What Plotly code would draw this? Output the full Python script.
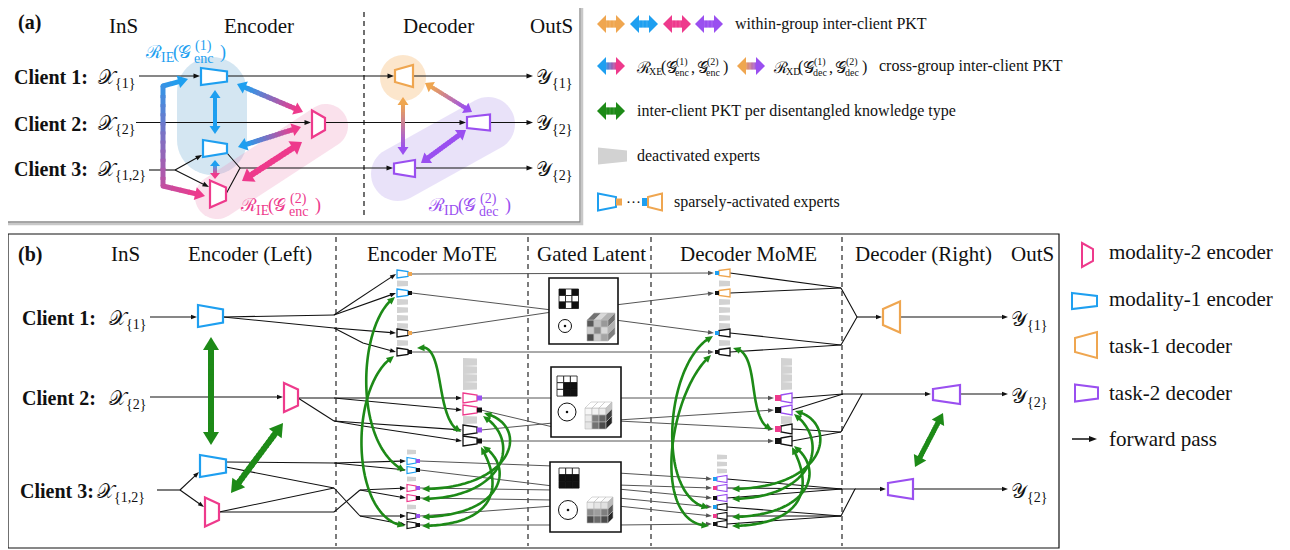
import math
import numpy as np
import plotly.graph_objects as go

# ------------------------------------------------------------------ data (labels / categories)
SX, SY, SR, SG = "\U0001D4B3", "\U0001D4B4", "\u211B", "\U0001D4A2"
CLIENTS = ["Client 1:", "Client 2:", "Client 3:"]
INPUTS = [SX + "<sub>{1}</sub>", SX + "<sub>{2}</sub>", SX + "<sub>{1,2}</sub>"]
OUTPUTS = [SY + "<sub>{1}</sub>", SY + "<sub>{2}</sub>", SY + "<sub>{2}</sub>"]
HEAD_A = ["(a)", "InS", "Encoder", "Decoder", "OutS"]
HEAD_B = ["(b)", "InS", "Encoder (Left)", "Encoder MoTE", "Gated Latent",
          "Decoder MoME", "Decoder (Right)", "OutS"]
# regularisers: (subscript, [(superscript, subscript), ...])
REG_IE1 = ("IE", [("(1)", "enc")])
REG_IE2 = ("IE", [("(2)", "enc")])
REG_ID2 = ("ID", [("(2)", "dec")])
REG_XE = ("XE", [("(1)", "enc"), ("(2)", "enc")])
REG_XD = ("XD", [("(1)", "dec"), ("(2)", "dec")])
LEG_A = ["within-group inter-client PKT", "cross-group inter-client PKT",
         "inter-client PKT per disentangled knowledge type",
         "deactivated experts", "sparsely-activated experts"]
LEG_B = ["modality-2 encoder", "modality-1 encoder", "task-1 decoder", "task-2 decoder", "forward pass"]
# active experts: (outline colour, routing-square colour)
ENC_C1 = [("blue", "orange"), ("blue", "black"), ("black", "orange"), ("black", "black")]
ENC_C2 = [("pink", "purple"), ("pink", "black"), ("black", "purple"), ("black", "black")]
ENC_C3 = [("blue", "purple"), ("blue", "black"), ("pink", "purple"), ("pink", "black"),
          ("black", "purple"), ("black", "black")]
DEC_C1 = [("orange", "blue"), ("orange", "black"), ("black", "blue"), ("black", "black")]
DEC_C2 = [("purple", "pink"), ("purple", "black"), ("black", "pink"), ("black", "black")]
DEC_C3 = [("purple", "blue"), ("purple", "pink"), ("purple", "black"), ("black", "blue"),
          ("black", "pink"), ("black", "black")]
MASKS = [[[1, 0, 1], [0, 0, 0], [1, 0, 1]],
         [[0, 0, 0], [0, 1, 1], [0, 1, 1]],
         [[0, 0, 0], [1, 1, 1], [1, 1, 1]]]
CUBE_SHADES = [[[0.35, 0.75, 0.6], [0.8, 0.55, 0.85], [0.3, 0.8, 0.65]],
               [[0.97, 0.95, 0.93], [0.92, 0.5, 0.4], [0.9, 0.45, 0.3]],
               [[0.93, 0.9, 0.88], [0.55, 0.62, 0.5], [0.3, 0.42, 0.3]]]

# ------------------------------------------------------------------ styles
C = dict(blue='#1e9ff0', pink='#ee3a8c', orange='#efa650', purple='#9a4ff0',
         black='#111111', green='#1d8a17', gray='#d2d2d2', line='#555555')
SERIF = "Liberation Serif, Times New Roman, serif"

shapes, anns = [], []


def P(pts, close=True):
    s = 'M ' + ' L '.join(f'{x:.2f},{y:.2f}' for x, y in pts)
    return s + (' Z' if close else '')


def poly(pts, fill, line=None, lw=1.0):
    shapes.append(dict(type='path', path=P(pts), fillcolor=fill, xref='x', yref='y',
                       line=dict(color=line if line else 'rgba(0,0,0,0)', width=lw if line else 0)))


def pline(pts, color=C['black'], lw=1.1, dash=None):
    shapes.append(dict(type='path', path=P(pts, False), xref='x', yref='y',
                       line=dict(color=color, width=lw, dash=dash)))


def seg(x0, y0, x1, y1, color, lw=1.0, dash=None):
    shapes.append(dict(type='line', x0=x0, y0=y0, x1=x1, y1=y1, xref='x', yref='y',
                       line=dict(color=color, width=lw, dash=dash)))


def unit(dx, dy):
    d = math.hypot(dx, dy) or 1.0
    return dx / d, dy / d


def head(x, y, ux, uy, L, Wd, color):
    bx, by = x - ux * L, y - uy * L
    px, py = -uy, ux
    poly([(x, y), (bx + px * Wd / 2, by + py * Wd / 2), (bx - px * Wd / 2, by - py * Wd / 2)], color)


def arrow(pts, color=C['black'], lw=1.1, L=6.5, Wd=5):
    x1, y1 = pts[-1]
    x0, y0 = pts[-2]
    ux, uy = unit(x1 - x0, y1 - y0)
    pline(pts[:-1] + [(x1 - ux * L * 0.8, y1 - uy * L * 0.8)], color, lw)
    head(x1, y1, ux, uy, L, Wd, color)


def hx(c):
    c = c.lstrip('#')
    return tuple(int(c[i:i + 2], 16) for i in (0, 2, 4))


def mix(c0, c1, t):
    a, b = hx(c0), hx(c1)
    return 'rgb(%d,%d,%d)' % tuple(round(a[i] + (b[i] - a[i]) * t) for i in range(3))


def thick(pts, c0, c1=None, w=5, L=11, Wd=13, start=True, end=True, n=16):
    c1 = c1 or c0
    pts = [tuple(p) for p in pts]
    us = unit(pts[0][0] - pts[1][0], pts[0][1] - pts[1][1])
    ue = unit(pts[-1][0] - pts[-2][0], pts[-1][1] - pts[-2][1])
    body = list(pts)
    if start:
        body[0] = (pts[0][0] - us[0] * L * 0.85, pts[0][1] - us[1] * L * 0.85)
    if end:
        body[-1] = (pts[-1][0] - ue[0] * L * 0.85, pts[-1][1] - ue[1] * L * 0.85)
    lens = [math.dist(body[i], body[i + 1]) for i in range(len(body) - 1)]
    tot = sum(lens)
    acc = 0.0
    for i in range(len(body) - 1):
        (x0, y0), (x1, y1) = body[i], body[i + 1]
        k = max(1, round(n * lens[i] / tot))
        for j in range(k):
            t0, t1 = j / k, min(1.0, (j + 1) / k + 0.03)
            tm = (acc + lens[i] * (j + 0.5) / k) / tot
            seg(x0 + (x1 - x0) * t0, y0 + (y1 - y0) * t0, x0 + (x1 - x0) * t1, y0 + (y1 - y0) * t1,
                mix(c0, c1, tm), w)
        acc += lens[i]
        if i < len(body) - 2:
            cx, cy = body[i + 1]
            r = w / 2
            shapes.append(dict(type='circle', x0=cx - r, x1=cx + r, y0=cy - r, y1=cy + r, xref='x', yref='y',
                               fillcolor=mix(c0, c1, acc / tot), line=dict(width=0)))
    if start:
        head(pts[0][0], pts[0][1], us[0], us[1], L, Wd, mix(c0, c1, 0))
    if end:
        head(pts[-1][0], pts[-1][1], ue[0], ue[1], L, Wd, mix(c0, c1, 1))


def bez(p0, p1, p2, p3, color=C['green'], lw=2.6, L=7.5, Wd=7):
    ts = np.linspace(0, 1, 90)
    pts = [((1 - s) ** 3 * p0[0] + 3 * (1 - s) ** 2 * s * p1[0] + 3 * (1 - s) * s ** 2 * p2[0] + s ** 3 * p3[0],
            (1 - s) ** 3 * p0[1] + 3 * (1 - s) ** 2 * s * p1[1] + 3 * (1 - s) * s ** 2 * p2[1] + s ** 3 * p3[1])
           for s in ts]
    tip1 = pts[-1]
    k1 = len(pts) - 1
    while k1 > 0 and math.dist(pts[k1], tip1) < L:
        k1 -= 1
    ue = unit(tip1[0] - pts[k1][0], tip1[1] - pts[k1][1])
    tip0 = pts[0]
    k0 = 0
    while k0 < len(pts) - 1 and math.dist(pts[k0], tip0) < L:
        k0 += 1
    us = unit(tip0[0] - pts[k0][0], tip0[1] - pts[k0][1])
    body = [(tip0[0] - us[0] * L * 0.7, tip0[1] - us[1] * L * 0.7)] + pts[k0:k1 + 1] + \
           [(tip1[0] - ue[0] * L * 0.7, tip1[1] - ue[1] * L * 0.7)]
    pline(body, color, lw)
    head(tip1[0], tip1[1], ue[0], ue[1], L, Wd, color)
    head(tip0[0], tip0[1], us[0], us[1], L, Wd, color)


def trap(x0, x1, yc, hl, hr, color, lw=2.2, fill='white'):
    poly([(x0, yc - hl / 2), (x1, yc - hr / 2), (x1, yc + hr / 2), (x0, yc + hl / 2)], fill, color, lw)


def rect(x0, y0, x1, y1, fill, line=None, lw=1.0):
    poly([(x0, y0), (x1, y0), (x1, y1), (x0, y1)], fill, line, lw)


def stadium(p0, p1, r, fill):
    ux, uy = unit(p1[0] - p0[0], p1[1] - p0[1])
    a0 = math.atan2(ux, -uy)
    pts = []
    for k in range(25):
        a = a0 - math.pi * k / 24
        pts.append((p1[0] + r * math.cos(a), p1[1] + r * math.sin(a)))
    for k in range(25):
        a = a0 + math.pi - math.pi * k / 24
        pts.append((p0[0] + r * math.cos(a), p0[1] + r * math.sin(a)))
    poly(pts, fill)


def circle(cx, cy, r, fill='white', line=C['black'], lw=1.0):
    shapes.append(dict(type='circle', x0=cx - r, x1=cx + r, y0=cy - r, y1=cy + r, xref='x', yref='y',
                       fillcolor=fill, line=dict(color=line, width=lw)))


def txt(x, y, s, size=20, color=C['black'], anchor='left', bold=False):
    if bold:
        s = '<b>' + s + '</b>'
    anns.append(dict(x=x, y=y, xref='x', yref='y', text=s, showarrow=False, xanchor=anchor, yanchor='middle',
                     font=dict(family=SERIF, size=size, color=color)))


def rlabel(x0, y, reg, color, s=17, ss=14, R=12, sw=11, G=14, st=34, cm=8, dy=6):
    """R_sub( G^sup_sub , ... ) built from stacked pieces"""
    sub1, pairs = reg
    txt(x0, y, SR, s, color)
    txt(x0 + R, y + dy - 1, sub1, ss, color)
    x = x0 + R + sw
    txt(x, y, '(', s, color)
    x += 5
    for i, (sp, sb) in enumerate(pairs):
        if i:
            txt(x - 1, y, ',', s, color)
            x += cm
        txt(x, y, SG, s, color)
        x += G
        txt(x + st / 2, y - dy, sp, ss, color, 'center')
        txt(x + st / 2, y + dy, sb, ss, color, 'center')
        x += st
    txt(x, y, ')', s, color)


def gray_bar(x, y, w, h):
    poly([(x, y - h / 2), (x + w, y - h / 2 + 0.6), (x + w, y + h / 2 - 0.6), (x, y + h / 2)], C['gray'])


def enc_col(x, ys, experts, grays, w, hl, hr, sq, lw=1.3):
    for g in grays:
        gray_bar(x, g, w, hl - 2)
    for y, (oc, sc) in zip(ys, experts):
        trap(x, x + w, y, hl, hr, C[oc], lw)
        rect(x + w, y - sq / 2, x + w + sq, y + sq / 2, C[sc])


def dec_col(x, ys, experts, grays, w, hl, hr, sq, lw=1.3):
    for g in grays:
        gray_bar(x + sq, g, w, hr - 2)
    for y, (oc, sc) in zip(ys, experts):
        trap(x + sq, x + sq + w, y, hl, hr, C[oc], lw)
        rect(x, y - sq / 2, x + sq, y + sq / 2, C[sc])


def cube(x0, y0, c, d, shades):
    for i in range(3):
        for j in range(3):
            g = int(255 * shades[i][j])
            rect(x0 + j * c, y0 + d + i * c, x0 + (j + 1) * c, y0 + d + (i + 1) * c,
                 f'rgb({g},{g},{g})', '#bbbbbb', 0.6)
    for j in range(3):
        g = int(255 * min(1, shades[0][j] + 0.1))
        poly([(x0 + j * c, y0 + d), (x0 + (j + 1) * c, y0 + d), (x0 + (j + 1) * c + d, y0),
              (x0 + j * c + d, y0)], f'rgb({g},{g},{g})', '#bbbbbb', 0.6)
    for i in range(3):
        g = int(255 * max(0, shades[i][2] - 0.15))
        xr = x0 + 3 * c
        poly([(xr, y0 + d + i * c), (xr + d, y0 + i * c), (xr + d, y0 + (i + 1) * c),
              (xr, y0 + d + (i + 1) * c)], f'rgb({g},{g},{g})', '#bbbbbb', 0.6)


def mask(x0, y0, c, m):
    for i in range(3):
        for j in range(3):
            rect(x0 + j * c, y0 + i * c, x0 + (j + 1) * c, y0 + (i + 1) * c,
                 C['black'] if m[i][j] else 'white', C['black'], 0.8)


# ================================================================== PANEL (a)
rect(9, 6, 582, 224, 'rgba(0,0,0,0)', '#c8c8c8', 2.5)
rect(7, 4, 580, 222, 'white', '#8a8a8a', 1.3)
seg(364, 12, 364, 218, C['black'], 1.2, '5px,4px')

stadium((212, 92), (212, 140), 35, 'rgba(120,178,215,0.32)')
stadium((217, 197), (326, 126), 22, 'rgba(235,140,180,0.26)')
circle(403, 78, 23, 'rgba(245,180,100,0.33)', 'rgba(0,0,0,0)', 0)
stadium((398, 174), (488, 124), 27, 'rgba(165,135,230,0.24)')

ya = [76, 122.5, 168]
arrow([(139, ya[0]), (200, ya[0])])
arrow([(227, ya[0]), (394, ya[0])])
arrow([(413, ya[0]), (533, ya[0])])
arrow([(136, ya[1]), (311, ya[1])])
arrow([(325, ya[1]), (466, ya[1])])
arrow([(490, ya[1]), (533, ya[1])])
pline([(149, 170), (175, 170)])
arrow([(175, 170), (202, 155)])
arrow([(175, 170), (209, 187)])
pline([(227, 153), (240, 168), (226, 194)])
arrow([(240, ya[2]), (393, ya[2])])
arrow([(415, ya[2]), (533, ya[2])])

thick([(215, 90), (215, 134)], C['blue'], w=4, L=8, Wd=11)
thick([(215, 160), (215, 179)], C['blue'], C['pink'], w=4, L=6, Wd=10)
thick([(237, 84), (303, 112)], C['blue'], C['pink'], w=5, L=9, Wd=13)
thick([(238, 147), (301, 127)], C['blue'], C['pink'], w=5, L=9, Wd=13)
thick([(242, 181), (302, 142)], C['pink'], w=6, L=11, Wd=16)
thick([(188, 79), (163, 86), (163, 186), (205, 196)], C['blue'], C['pink'], w=5, L=10, Wd=13)
thick([(403, 97), (403, 155)], C['orange'], C['purple'], w=4, L=8, Wd=11)
thick([(425, 83), (472, 112)], C['orange'], C['purple'], w=4, L=8, Wd=12)
thick([(466, 130), (421, 163)], C['purple'], w=5, L=9, Wd=13)

trap(201, 227, 76.5, 17, 10, C['blue'])
trap(203, 227, 148.5, 17, 9, C['blue'])
trap(210, 226, 194, 27, 13, C['pink'])
trap(312, 325, 124, 27, 12, C['pink'])
trap(395, 413, 76, 12, 22, C['orange'])
trap(467, 490, 122.5, 11, 16, C['purple'])
trap(394, 415, 168.5, 10, 17, C['purple'])

txt(16, 22, HEAD_A[0], 20, bold=True)
txt(123, 26, HEAD_A[1], 21, anchor='center')
txt(259, 26, HEAD_A[2], 21, anchor='center')
txt(438, 26, HEAD_A[3], 21, anchor='center')
txt(551, 26, HEAD_A[4], 21, anchor='center')
for i, y in enumerate(ya):
    txt(12, y + 1, CLIENTS[i], 20, bold=True)
    txt(96, y + 2, INPUTS[i], 20)
    txt(534, y + 2, OUTPUTS[i], 20)
rlabel(143, 52, REG_IE1, C['blue'], s=18, ss=14, R=16, sw=12, G=13, st=29)
rlabel(238, 205, REG_IE2, C['pink'], s=18, ss=14, R=16, sw=12, G=13, st=29)
rlabel(426, 205, REG_ID2, C['purple'], s=18, ss=14, R=16, sw=14, G=13, st=29)

# legend (a)
for x0, c in zip([597, 630, 663, 695], ['orange', 'blue', 'pink', 'purple']):
    thick([(x0, 24), (x0 + 28, 24)], C[c], w=7, L=9, Wd=18)
txt(733, 24, LEG_A[0], 16)
thick([(597, 66), (625, 66)], C['blue'], C['pink'], w=7, L=9, Wd=18)
rlabel(634, 67, REG_XE, C['black'], s=16, ss=10, R=13, sw=12, G=10, st=16, cm=5, dy=5)
thick([(737, 66), (765, 66)], C['orange'], C['purple'], w=7, L=9, Wd=18)
rlabel(771, 67, REG_XD, C['black'], s=16, ss=10, R=13, sw=12, G=10, st=17, cm=5, dy=5)
txt(877, 66, LEG_A[1], 16)
thick([(597, 111), (625, 111)], C['green'], w=7, L=9, Wd=18)
txt(635, 111, LEG_A[2], 16)
poly([(598, 147.5), (627, 150.5), (627, 161.5), (598, 164.5)], C['gray'])
txt(635, 156, LEG_A[3], 16)
trap(598, 616, 202, 17, 10, C['blue'], 2)
rect(616, 198.5, 622, 205.5, C['orange'])
txt(624, 202, '···', 15)
rect(642, 198, 648, 206, C['blue'])
trap(648, 662, 202, 10, 17, C['orange'], 2)
txt(672, 202, LEG_A[4], 16)

# ================================================================== PANEL (b)
rect(8, 234, 1059, 548, 'white', C['black'], 1.2)
for xd in [336, 528, 651, 842]:
    seg(xd, 237, xd, 546, C['black'], 1.1, '5px,4px')

yb = [317, 397, 490]
E1Y = [274, 293, 333, 352]
E1G = [283.5, 302, 310, 318, 326, 343]
E2Y = [398, 410, 430, 441]
E2G = [362, 370, 378, 386, 420]
E3Y = [461, 470, 488, 498, 516, 525]
E3G = [452, 479, 507]
D1Y = [273, 293, 333, 352]
D2Y = [398, 410, 429, 441]
D3Y = [479, 488, 498, 507, 516, 524]
D3G = [457, 464, 471]

# inputs
arrow([(150, yb[0]), (197, yb[0])], L=6, Wd=4.5)
arrow([(150, yb[1]), (283, yb[1])], L=6, Wd=4.5)
pline([(157, yb[2]), (180, yb[2])])
arrow([(180, yb[2]), (199, 472)], L=6, Wd=4.5)
arrow([(180, yb[2]), (204, 507)], L=6, Wd=4.5)

# encoder(left) -> MoTE
pline([(223, 317), (334, 315)])
pline([(223, 317), (334, 328)])
for y in E1Y[:2]:
    arrow([(334, 315), (396, y)], L=6, Wd=4.5)
arrow([(334, 328), (396, E1Y[2])], L=6, Wd=4.5)
arrow([(334, 328), (363, 343), (396, E1Y[3])], L=6, Wd=4.5)
pline([(298, 398), (334, 398)])
pline([(298, 398), (334, 421)])
for y in E2Y[:2]:
    arrow([(334, 398), (462, y)], L=6, Wd=4.5)
arrow([(334, 421), (462, E2Y[2])], L=6, Wd=4.5)
arrow([(334, 421), (363, 426), (462, E2Y[3])], L=6, Wd=4.5)
pline([(226, 462), (334, 463)])
pline([(226, 467), (334, 488)])
pline([(219, 512), (334, 488)])
pline([(219, 512), (334, 512)])
for y in E3Y[:2]:
    arrow([(334, 463), (406, y)], L=6, Wd=4.5)
pline([(334, 488), (360, 516)])
pline([(334, 512), (360, 490)])
for y in E3Y[4:]:
    arrow([(360, 516), (406, y)], L=6, Wd=4.5)
for y in E3Y[2:4]:
    arrow([(360, 490), (406, y)], L=6, Wd=4.5)

# MoTE -> gated latent -> MoME (grey)
G = C['line']
arrow([(412, E1Y[0]), (714, D1Y[0])], G, 1.0, 6, 4.5)
arrow([(412, E1Y[3]), (714, D1Y[3])], G, 1.0, 6, 4.5)
pline([(412, E1Y[1]), (552, 310)], G, 1.0)
pline([(412, E1Y[2]), (552, 312)], G, 1.0)
arrow([(615, 305), (714, D1Y[1])], G, 1.0, 6, 4.5)
arrow([(615, 320), (714, D1Y[2])], G, 1.0, 6, 4.5)
arrow([(481, E2Y[0]), (774, D2Y[0])], G, 1.0, 6, 4.5)
arrow([(481, E2Y[3]), (774, D2Y[3])], G, 1.0, 6, 4.5)
pline([(481, E2Y[1]), (553, 427)], G, 1.0)
pline([(481, E2Y[2]), (553, 423)], G, 1.0)
arrow([(618, 420), (774, D2Y[1])], G, 1.0, 6, 4.5)
arrow([(618, 421), (774, D2Y[2])], G, 1.0, 6, 4.5)
for ye, yl in zip(E3Y, [466, 486, 490, 500, 506, 525]):
    pline([(420, ye), (553, yl)], G, 1.0)
for yr, yd in zip([473, 485, 489, 498, 506, 525], D3Y):
    arrow([(618, yr), (712, yd)], G, 1.0, 6, 4.5)

# MoME -> decoder(right) -> outputs
for y in D1Y[:2]:
    pline([(730, y), (841, 288)])
for y in D1Y[2:]:
    pline([(730, y), (841, 345)])
pline([(841, 288), (857, 317), (841, 345)])
arrow([(857, 317), (882, 317)], L=6, Wd=4.5)
for y in D2Y[:2]:
    pline([(792, y), (843, 394)])
for y in D2Y[2:]:
    pline([(792, y), (841, 432)])
pline([(843, 394), (862, 394), (841, 432)])
arrow([(862, 394), (931, 394)], L=6, Wd=4.5)
for y in D3Y[:3]:
    pline([(727, y), (842, 489)])
for y in D3Y[3:]:
    pline([(727, y), (841, 516)])
pline([(842, 489), (855, 489), (841, 516)])
arrow([(855, 489), (886, 489)], L=6, Wd=4.5)
arrow([(900, 317), (1008, 317)], L=6, Wd=4.5)
arrow([(960, 394), (1008, 394)], L=6, Wd=4.5)
arrow([(913, 489), (1008, 489)], L=6, Wd=4.5)

# gated latent boxes
BOX = [(549, 278, 618, 344), (551, 367, 621, 437), (550, 462, 621, 532)]
for bx0, by0, bx1, by1 in BOX:
    rect(bx0, by0, bx1, by1, 'white', C['black'], 1.6)
mask(559, 289, 6.5, MASKS[0])
mask(557, 376, 6.7, MASKS[1])
mask(559, 468, 6.7, MASKS[2])
circle(565, 326, 6.5)
circle(567, 412, 9)
circle(568, 510, 9.5)
for cx, cy in [(565, 326), (567, 412), (568, 510)]:
    circle(cx, cy, 1.3, C['black'], C['black'], 0)
cube(587, 313, 7, 7, CUBE_SHADES[0])
cube(585, 402, 7, 6, CUBE_SHADES[1])
cube(587, 497, 7, 5, CUBE_SHADES[2])

# expert columns
enc_col(397, E1Y, ENC_C1, E1G, 11, 8, 5, 4)
enc_col(463, E2Y, ENC_C2, E2G, 14, 10, 6, 5)
enc_col(407, E3Y, ENC_C3, E3G, 9, 7, 4, 4, 1.2)
dec_col(715, D1Y, DEC_C1, E1G, 11, 5, 8, 4)
dec_col(775, D2Y, DEC_C2, E2G, 11, 6, 10, 6)
dec_col(713, D3Y, DEC_C3, D3G, 10, 4, 7, 4, 1.2)

# green knowledge-transfer curves
bez((395, 297), (358, 322), (352, 445), (405, 471))
bez((394, 356), (348, 385), (350, 520), (405, 526))
bez((417, 348), (447, 338), (433, 420), (461, 432))
bez((484, 413), (532, 425), (515, 489), (422, 489))
bez((483, 416), (522, 440), (506, 498), (422, 499))
bez((483, 446), (516, 468), (502, 516), (422, 517))
bez((481, 447), (506, 490), (492, 525), (422, 526))
bez((713, 336), (664, 360), (655, 500), (709, 508))
bez((711, 355), (668, 392), (650, 525), (709, 526))
bez((733, 348), (762, 350), (745, 420), (772, 430))
bez((795, 411), (838, 420), (832, 488), (732, 489))
bez((794, 414), (830, 440), (816, 498), (732, 499))
bez((794, 446), (826, 470), (810, 516), (732, 517))
bez((792, 447), (816, 490), (801, 525), (732, 526))

# left/right encoders and decoders
trap(198, 223, 316, 22, 13, C['blue'])
trap(284, 298, 397.5, 29, 16, C['pink'])
trap(200, 226, 466, 22, 13, C['blue'])
trap(205, 219, 512, 29, 16, C['pink'])
trap(883, 900, 317, 16, 31, C['orange'])
trap(933, 960, 394.5, 11, 19, C['purple'])
trap(888, 913, 489, 12, 20, C['purple'])

thick([(211, 337), (211, 445)], C['green'], w=6, L=13, Wd=16)
thick([(283, 423), (231, 493)], C['green'], w=6, L=13, Wd=16)
thick([(943, 413), (915, 467)], C['green'], w=5, L=11, Wd=14)

txt(16, 254, HEAD_B[0], 20, bold=True)
xs_b = [125, 250, 432, 591, 748, 923, 1032]
for x, s in zip(xs_b, HEAD_B[1:]):
    txt(x, 254, s, 21, anchor='center')
txt(20, yb[0] + 1, CLIENTS[0], 20, bold=True)
txt(20, yb[1] + 1, CLIENTS[1], 20, bold=True)
txt(18, yb[2] + 1, CLIENTS[2], 20, bold=True)
txt(107, yb[0] + 2, INPUTS[0], 20)
txt(107, yb[1] + 2, INPUTS[1], 20)
txt(95, yb[2] + 2, INPUTS[2], 20)
for y, s in zip([317, 394, 489], OUTPUTS):
    txt(1009, y + 3, s, 20)

# legend (b)
trap(1082, 1093, 255, 24, 12, C['pink'], 2)
txt(1107, 252, LEG_B[0], 21)
trap(1072, 1097, 301, 16, 10, C['blue'], 2)
txt(1107, 299, LEG_B[1], 21)
trap(1075, 1097, 345, 14, 26, C['orange'], 2)
txt(1107, 346, LEG_B[2], 21)
trap(1075, 1098, 393, 17, 11, C['purple'], 2)
txt(1107, 393, LEG_B[3], 21)
arrow([(1072, 439), (1097, 439)], L=8, Wd=6, lw=1.5)
txt(1107, 439, LEG_B[4], 21)

# ------------------------------------------------------------------ figure
# the page body adds an 8px margin, so the figure is 8px smaller and the axes start at 8
fig = go.Figure()
fig.update_layout(width=1282, height=542, margin=dict(l=0, r=0, t=0, b=0),
                  paper_bgcolor='white', plot_bgcolor='white', showlegend=False,
                  xaxis=dict(range=[8, 1290], visible=False, fixedrange=True),
                  yaxis=dict(range=[550, 8], visible=False, fixedrange=True),
                  shapes=shapes, annotations=anns)
fig.write_html("out.html", config=dict(displayModeBar=False))
